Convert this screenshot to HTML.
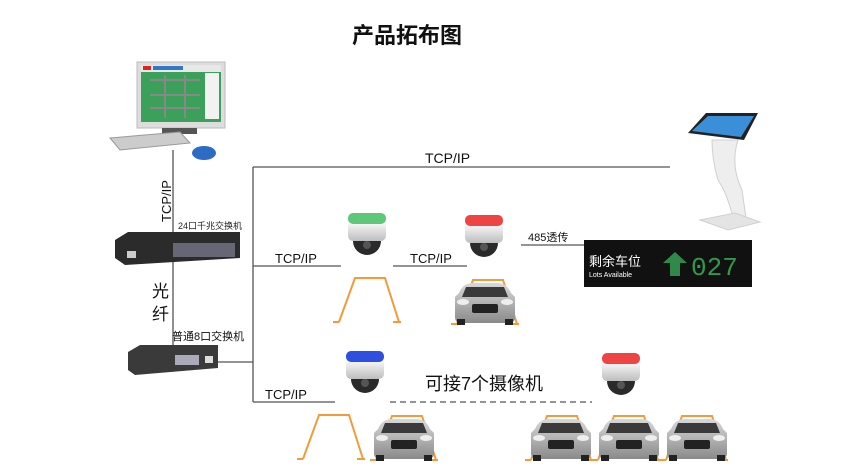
<!DOCTYPE html>
<html><head><meta charset="utf-8"><style>
body{margin:0;background:#fff;}
svg{display:block;font-family:"Liberation Sans","Noto Sans CJK SC",sans-serif;}
</style></head><body>
<svg width="865" height="475" viewBox="0 0 865 475" xmlns="http://www.w3.org/2000/svg">
<defs>
<linearGradient id="gs" x1="0" y1="0" x2="0" y2="1"><stop offset="0" stop-color="#f4f4f4"/><stop offset="1" stop-color="#bdbdbd"/></linearGradient>
<linearGradient id="car" x1="0" y1="0" x2="0" y2="1"><stop offset="0" stop-color="#d8d8d8"/><stop offset="1" stop-color="#8a8a8a"/></linearGradient>
<g id="cam">
<rect x="0" y="0" width="38" height="11" rx="5"/>
<path d="M0 11 H38 V22 Q38 28 32 28 H6 Q0 28 0 22Z" fill="url(#gs)"/>
<path d="M5 28 A14 14 0 0 0 33 28Z" fill="#2a2a2a"/>
<circle cx="19" cy="32" r="4" fill="#555"/>
</g>
<g id="car1">
<path d="M6 12 Q10 2 20 2 H44 Q54 2 58 12 L62 16 V36 Q62 42 56 42 H8 Q2 42 2 36 V16Z" fill="url(#car)"/>
<path d="M13 6 H51 L55 16 H9Z" fill="#3a3a3a"/>
<rect x="19" y="23" width="26" height="9" rx="2" fill="#222"/>
<ellipse cx="10" cy="21" rx="6" ry="3" fill="#eee"/>
<ellipse cx="54" cy="21" rx="6" ry="3" fill="#eee"/>
<rect x="4" y="38" width="8" height="6" fill="#222"/><rect x="52" y="38" width="8" height="6" fill="#222"/>
</g>
<path id="trap" d="M0 44 H6 M6 44 L22 0 H52 L66 44 M60 44 H68" fill="none" stroke="#f39a3a" stroke-width="2"/>
</defs>

<text x="407" y="43" font-size="22" font-weight="bold" text-anchor="middle" fill="#111">产品拓布图</text>

<rect x="137" y="62" width="88" height="66" fill="#ddd" stroke="#bbb"/>
<rect x="141" y="65" width="80" height="57" fill="#3aa05a"/>
<rect x="141" y="65" width="80" height="7" fill="#e8e8e8"/>
<rect x="143" y="66" width="8" height="4" fill="#d22"/>
<rect x="153" y="66" width="30" height="4" fill="#3477c9"/>
<rect x="205" y="73" width="14" height="46" fill="#f2f2f2"/>
<path d="M150 80 H200 M150 95 H200 M150 108 H200 M165 75 V118 M185 75 V118" stroke="#888" stroke-width="2"/>
<rect x="162" y="128" width="35" height="6" fill="#555"/>
<path d="M110 138 L180 132 L190 143 L120 150Z" fill="#ccc" stroke="#999"/>
<ellipse cx="204" cy="153" rx="12" ry="7" fill="#2c6cc4"/>

<g stroke="#555" stroke-width="1.3" fill="none">
<path d="M173 150 V345"/>
<path d="M218 362 H253 M253 167 V402 M253 167 H670"/>
<path d="M253 266 H341 M393 266 H467 M521 245 H584 M253 402 H335"/>
<path d="M390 402 H592" stroke-dasharray="6 4"/>
</g>

<text transform="translate(171,222) rotate(-90)" font-size="13" fill="#111">TCP/IP</text>
<text x="178" y="229" font-size="9" fill="#222">24口千兆交换机</text>
<path d="M115 240 L128 232 H240 L240 258 L125 265 L115 258Z" fill="#2b2b2b"/>
<rect x="173" y="243" width="62" height="14" fill="#667"/>
<rect x="127" y="251" width="9" height="7" fill="#ccc"/>
<text x="152" y="297" font-size="17" fill="#111">光</text>
<text x="152" y="320" font-size="17" fill="#111">纤</text>
<text x="172" y="340" font-size="11" fill="#111">普通8口交换机</text>
<path d="M128 352 L140 345 H218 V368 L135 375 L128 370Z" fill="#3a3a3a"/>
<rect x="175" y="355" width="24" height="10" fill="#aab"/>
<rect x="205" y="356" width="8" height="7" fill="#ddd"/>

<text x="425" y="163" font-size="14" fill="#111">TCP/IP</text>
<text x="275" y="263" font-size="13" fill="#111">TCP/IP</text>
<text x="410" y="263" font-size="13" fill="#111">TCP/IP</text>
<text x="528" y="241" font-size="11" fill="#111">485透传</text>
<text x="265" y="399" font-size="13" fill="#111">TCP/IP</text>
<text x="425" y="390" font-size="18" fill="#111">可接7个摄像机</text>

<!-- kiosk -->
<path d="M688 133 L706 113 H758 L744 140Z" fill="#222"/>
<path d="M692 131 L708 116 H754 L741 137Z" fill="#3b8fd8"/>
<path d="M712 140 H738 Q730 165 742 190 L746 218 L734 222 Q728 195 718 180 Q712 160 712 140Z" fill="#eeeeee" stroke="#d0d0d0"/>
<path d="M700 220 L735 213 L760 222 L728 230Z" fill="#e4e4e4" stroke="#d0d0d0"/>

<rect x="584" y="240" width="168" height="47" fill="#111"/>
<text x="589" y="266" font-size="13" fill="#fff">剩余车位</text>
<text x="589" y="277" font-size="7" fill="#fff">Lots Available</text>
<path d="M675 252 L687 263 H680 V276 H670 V263 H663Z" fill="#2f8a4a"/>
<text x="691" y="275" font-size="26" fill="#2f9a4a" font-family="Liberation Mono,monospace">027</text>

<use href="#cam" x="348" y="213" fill="#5dc87a"/>
<use href="#cam" x="465" y="215" fill="#e44"/>
<use href="#cam" x="346" y="351" fill="#2f4fe0"/>
<use href="#cam" x="602" y="353" fill="#e44"/>

<use href="#trap" x="333" y="278"/>
<use href="#trap" x="451" y="280"/><use href="#car1" x="453" y="281"/>
<use href="#trap" x="297" y="415"/>
<use href="#trap" x="370" y="416"/><use href="#car1" x="372" y="417"/>
<use href="#trap" x="525" y="416"/><use href="#car1" x="529" y="417"/>
<use href="#trap" x="592" y="416"/><use href="#car1" x="597" y="417"/>
<use href="#trap" x="660" y="416"/><use href="#car1" x="665" y="417"/>
</svg>
</body></html>
